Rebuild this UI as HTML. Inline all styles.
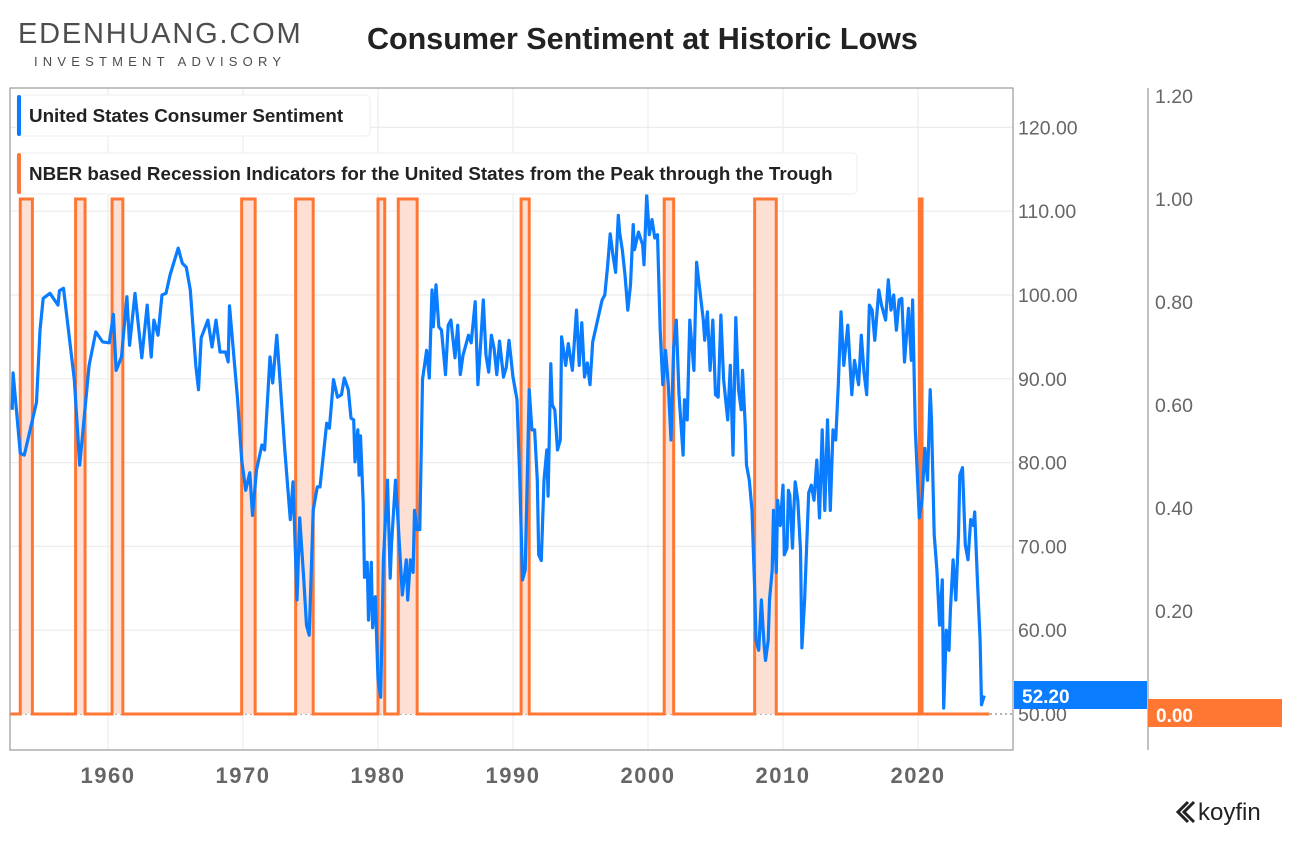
<!DOCTYPE html>
<html><head><meta charset="utf-8"><style>
body{margin:0;background:#fff;width:1292px;height:837px;overflow:hidden;font-family:"Liberation Sans",sans-serif}
</style></head><body>
<svg id="c" width="1292" height="837" xmlns="http://www.w3.org/2000/svg">
<text x="18" y="43" font-size="29" fill="#4d4d4d" letter-spacing="1.8">EDENHUANG.COM</text>
<text x="34" y="66" font-size="13" fill="#4d4d4d" letter-spacing="5.2">INVESTMENT ADVISORY</text>
<text x="367" y="49" font-size="30.5" font-weight="bold" fill="#222">Consumer Sentiment at Historic Lows</text>
<g id="grid"></g>
<g id="rec"></g>
<g id="line"></g>
<rect x="10" y="88" width="1003" height="662" fill="none" stroke="#999" stroke-width="1.2"/>
<line x1="1148" y1="88" x2="1148" y2="750" stroke="#999" stroke-width="1.2"/>
<g>
<rect x="17" y="95" width="353" height="41" rx="4" fill="#fff" stroke="#eee"/>
<rect x="17" y="95" width="4" height="41" rx="2" fill="#0a7cff"/>
<text x="29" y="122" font-size="18.8" font-weight="bold" fill="#222">United States Consumer Sentiment</text></g>
<g>
<rect x="17" y="153" width="840" height="41" rx="4" fill="#fff" stroke="#eee"/>
<rect x="17" y="153" width="4" height="41" rx="2" fill="#ff7733"/>
<text x="29" y="180" font-size="18.8" font-weight="bold" fill="#222">NBER based Recession Indicators for the United States from the Peak through the Trough</text></g>
<g id="axes"></g>
<rect x="1014" y="681" width="133" height="28" fill="#0a7cff"/>
<text x="1022" y="703" font-size="19" font-weight="bold" fill="#fff">52.20</text>
<rect x="1148" y="699" width="134" height="28" fill="#ff7733"/>
<text x="1156" y="722" font-size="19" font-weight="bold" fill="#fff">0.00</text>
<g>
<path d="M1188 802 l-10 10 l10 10 M1194 802 l-10 10 l10 10" stroke="#222" stroke-width="3" fill="none"/>
<text x="1198" y="820" font-size="24" fill="#222">koyfin</text></g>
</svg>
<script>
const leftTicks=[50,60,70,80,90,100,110,120];
const rightTicks=[0,0.2,0.4,0.6,0.8,1.0,1.2];
const xTicks=[1960,1970,1980,1990,2000,2010,2020];
const recStart=[1953.5,1957.6,1960.3,1969.9,1973.9,1980.0,1981.5,1990.6,2001.2,2007.9,2020.1];
const recEnd=[1954.4,1958.3,1961.1,1970.9,1975.2,1980.5,1982.9,1991.2,2001.9,2009.5,2020.3];
const years=[1952.9,1952.97,1953.5,1953.8,1954.7,1954.96,1955.2,1955.7,1956.3,1956.4,1956.7,1957.5,1957.9,1958.6,1959.1,1959.6,1960.1,1960.4,1960.6,1961.0,1961.4,1961.6,1962.0,1962.5,1962.9,1963.2,1963.4,1963.7,1964.0,1964.3,1964.6,1965.2,1965.5,1965.8,1966.1,1966.5,1966.7,1966.9,1967.4,1967.7,1968.0,1968.3,1968.7,1968.9,1969.0,1969.6,1969.9,1970.2,1970.5,1970.7,1971.0,1971.4,1971.6,1972.0,1972.2,1972.5,1972.7,1973.1,1973.5,1973.7,1974.0,1974.2,1974.5,1974.7,1974.9,1975.2,1975.5,1975.7,1976.2,1976.4,1976.7,1977.0,1977.3,1977.5,1977.8,1978.0,1978.2,1978.3,1978.5,1978.6,1978.7,1978.9,1979.0,1979.2,1979.3,1979.5,1979.6,1979.8,1980.0,1980.2,1980.4,1980.7,1980.9,1981.0,1981.3,1981.5,1981.8,1982.1,1982.2,1982.4,1982.6,1982.7,1982.9,1983.1,1983.3,1983.6,1983.8,1984.0,1984.1,1984.3,1984.5,1984.7,1985.0,1985.2,1985.4,1985.7,1985.9,1986.1,1986.3,1986.7,1986.9,1987.2,1987.4,1987.6,1987.8,1988.0,1988.2,1988.4,1988.6,1988.8,1989.0,1989.3,1989.5,1989.7,1990.0,1990.3,1990.5,1990.7,1990.9,1991.2,1991.4,1991.6,1991.8,1991.9,1992.1,1992.3,1992.5,1992.6,1992.8,1992.9,1993.1,1993.3,1993.5,1993.6,1993.9,1994.1,1994.4,1994.7,1994.9,1995.1,1995.3,1995.5,1995.7,1995.9,1996.6,1996.8,1997.0,1997.2,1997.4,1997.6,1997.8,1997.9,1998.1,1998.3,1998.5,1998.7,1998.9,1999.0,1999.3,1999.6,1999.7,1999.9,2000.1,2000.3,2000.5,2000.7,2000.9,2001.1,2001.3,2001.5,2001.7,2001.9,2002.1,2002.3,2002.6,2002.7,2002.9,2003.1,2003.4,2003.6,2004.1,2004.2,2004.4,2004.6,2004.8,2005.0,2005.2,2005.4,2005.6,2005.9,2006.1,2006.3,2006.5,2006.7,2006.9,2007.0,2007.2,2007.3,2007.5,2007.7,2007.9,2008.0,2008.2,2008.4,2008.6,2008.7,2008.9,2009.0,2009.2,2009.3,2009.5,2009.6,2009.8,2010.0,2010.1,2010.3,2010.4,2010.5,2010.7,2010.8,2010.9,2011.1,2011.3,2011.4,2011.6,2011.9,2012.1,2012.3,2012.5,2012.7,2012.9,2013.1,2013.3,2013.5,2013.7,2013.9,2014.1,2014.3,2014.5,2014.8,2015.1,2015.3,2015.6,2015.8,2016.0,2016.2,2016.4,2016.6,2016.8,2017.1,2017.3,2017.6,2017.8,2018.0,2018.2,2018.4,2018.6,2018.8,2019.0,2019.3,2019.5,2019.6,2019.8,2020.1,2020.3,2020.5,2020.7,2020.9,2021.0,2021.2,2021.4,2021.6,2021.8,2021.9,2022.1,2022.3,2022.4,2022.6,2022.8,2023.0,2023.1,2023.3,2023.5,2023.7,2023.9,2024.1,2024.2,2024.4,2024.6,2024.7,2024.9,2025.0,2025.15,2025.3];
const values=[86.3,90.7,81.1,80.9,87.2,95.8,99.6,100.2,98.8,100.5,100.8,89.9,79.7,91.6,95.6,94.4,94.3,97.7,91.0,92.6,99.8,94.0,100.2,92.5,98.8,92.6,97.0,95.2,100.0,100.2,102.4,105.6,103.8,103.3,100.6,91.6,88.7,94.9,97.0,93.8,97.0,93.2,93.2,92.0,98.7,87.5,80.3,76.7,78.8,73.7,79.1,82.1,81.5,92.6,89.5,95.2,90.7,81.5,73.2,77.7,63.6,73.4,66.0,60.6,59.4,74.3,77.1,77.1,84.7,84.1,89.9,87.8,88.1,90.1,88.7,85.3,85.1,80.1,83.9,78.5,83.2,75.2,66.3,68.1,61.2,68.1,60.3,64.0,54.1,52.0,68.4,77.9,66.2,70.2,77.9,72.5,64.2,68.4,63.6,68.4,66.9,74.3,72.0,72.0,89.9,93.4,90.1,100.6,96.2,101.2,96.2,95.8,90.5,96.4,97.0,92.5,96.4,90.5,92.8,95.2,94.3,99.2,89.3,94.1,99.4,92.8,90.8,95.2,93.6,90.5,94.5,90.2,91.4,94.6,90.2,87.5,77.9,66.0,67.2,88.7,83.9,83.9,77.9,69.0,68.3,77.9,81.5,76.0,91.8,86.9,86.3,81.5,82.7,95.0,91.6,94.2,91.0,98.2,91.6,96.7,90.2,91.9,89.3,94.4,99.4,100.0,103.3,107.3,104.8,102.7,109.5,107.4,105.4,102.4,98.2,101.2,108.4,105.4,107.5,106.0,103.6,111.9,107.2,109.0,106.8,107.2,95.8,89.3,93.4,89.3,82.7,93.8,97.0,88.1,80.9,87.5,85.1,97.0,91.0,103.9,97.0,94.6,98.0,91.0,97.0,88.1,87.8,97.6,89.9,85.1,91.6,80.9,97.3,88.7,86.3,91.0,84.5,79.7,77.9,74.3,64.8,58.8,57.6,63.6,58.2,56.4,58.8,63.6,67.2,74.3,66.9,75.5,72.5,77.3,69.0,69.8,76.7,76.1,69.8,74.3,77.7,75.5,69.6,57.9,63.6,76.4,77.3,75.5,80.3,73.4,83.9,74.3,85.1,74.3,83.9,82.7,89.3,98.0,91.6,96.4,88.1,92.2,89.3,95.2,90.8,88.1,98.8,98.2,94.6,100.6,98.8,97.0,101.8,98.2,100.0,95.8,99.4,99.6,92.0,98.4,92.2,99.4,83.9,73.4,75.5,81.7,77.9,88.7,85.1,71.4,67.2,60.6,66.0,50.7,60.0,57.6,62.4,68.4,63.6,71.4,78.5,79.4,70.2,68.4,73.2,72.5,74.1,66.0,58.8,51.1,52.2];
const NS="http://www.w3.org/2000/svg";
const X0=10,X1=1013,Y0=88,Y1=750;
const xs=y=>108+(y-1960)*13.5;
const ysL=v=>714-(v-50)*8.38;
const ysR=v=>714-v*515;
function mk(tag,attrs,parent){const e=document.createElementNS(NS,tag);for(const k in attrs)e.setAttribute(k,attrs[k]);document.getElementById(parent).appendChild(e);return e;}
xTicks.forEach(t=>{
  const g=mk('line',{x1:xs(t),x2:xs(t),y1:Y0,y2:Y1,stroke:'#ececec','stroke-width':1.2},'grid');
  
  
  const l=mk('text',{x:xs(t),y:783,'font-size':22,'font-weight':'bold',fill:'#666','text-anchor':'middle','letter-spacing':1.5},'axes');
  l.textContent=t;
  
  
});
leftTicks.forEach(t=>{
  const g=mk('line',{x1:X0,x2:X1,y1:ysL(t),y2:ysL(t),stroke:t===50?'#888':'#ececec','stroke-width':1.2,'stroke-dasharray':t===50?'2,3':'none'},'grid');
  
  
  const l=mk('text',{x:1018,y:ysL(t)+7,'font-size':19.5,fill:'#666'},'axes');
  l.textContent=t.toFixed(2);
  
  
});
rightTicks.forEach(t=>{
  const l=mk('text',{x:1155,y:ysR(t)+7,'font-size':19.5,fill:'#666'},'axes');
  l.textContent=t.toFixed(2);
  
  
});
let d='M'+X0+','+ysR(0);
recStart.forEach((s,i)=>{
  const a=xs(s),b=xs(recEnd[i]);
  const r=mk('rect',{x:a,y:ysR(1),width:b-a,height:ysR(0)-ysR(1),fill:'#fde0d3'},'rec');
  
  
  d+=' L'+a+','+ysR(0)+' L'+a+','+ysR(1)+' L'+b+','+ysR(1)+' L'+b+','+ysR(0);
});
d+=' L'+xs(2025.3)+','+ysR(0);
const rp=mk('path',{d:d,fill:'none',stroke:'#ff7733','stroke-width':3},'rec');


const pts=years.map((y,i)=>xs(y).toFixed(1)+','+ysL(values[i]).toFixed(1)).join(' L');
const lp=mk('path',{d:'M'+pts,fill:'none',stroke:'#0a7cff','stroke-width':3.2,'stroke-linejoin':'round'},'line');


</script>
</body></html>
